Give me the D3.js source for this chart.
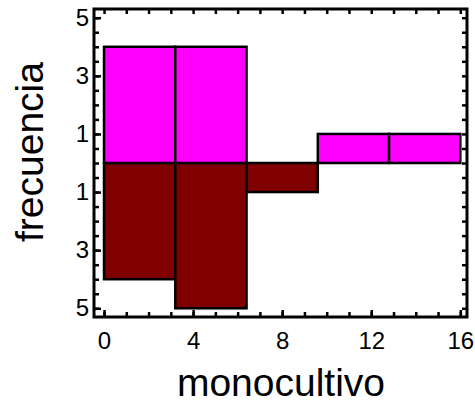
<!DOCTYPE html>
<html>
<head>
<meta charset="utf-8">
<script src="https://cdn.jsdelivr.net/npm/d3@7"></script>
<style>
  html, body { margin: 0; padding: 0; background: #fff; }
  svg { display: block; }
  text { font-family: "Liberation Sans", Arial, sans-serif; fill: #000; }
</style>
</head>
<body>
<svg id="chart" width="475" height="404"></svg>
<script>
// Back-to-back histogram: upper series above the zero line, lower series below.
const binEdges = [0, 3.2, 6.4, 9.6, 12.8, 16];
const upperCounts = [4, 4, 0, 1, 1];
const lowerCounts = [4, 5, 1, 0, 0];
const xTickValues = [0, 4, 8, 12, 16];
const yTickValues = [-5, -3, -1, 1, 3, 5];
const xTitle = "monocultivo";
const yTitle = "frecuencia";

const svg = d3.select("#chart");
const frame = { left: 94, top: 9, right: 467, bottom: 317 };

const x = d3.scaleLinear().domain([-0.45, 16.3]).range([frame.left, frame.right]);
const y = d3.scaleLinear().domain([-5.3, 5.3]).range([frame.bottom, frame.top]);

const bins = upperCounts.map((c, i) => ({ x0: binEdges[i], x1: binEdges[i + 1], up: c, down: lowerCounts[i] }));

// lower bars (drawn first so the upper outline sits on top at zero)
svg.append("g").selectAll("rect")
  .data(bins.filter(d => d.down > 0))
  .join("rect")
  .attr("x", d => x(d.x0))
  .attr("y", y(0))
  .attr("width", d => x(d.x1) - x(d.x0))
  .attr("height", d => y(-d.down) - y(0))
  .attr("fill", "#800000")
  .attr("stroke", "#000")
  .attr("stroke-width", 2.5);

svg.append("g").selectAll("rect")
  .data(bins.filter(d => d.up > 0))
  .join("rect")
  .attr("x", d => x(d.x0))
  .attr("y", d => y(d.up))
  .attr("width", d => x(d.x1) - x(d.x0))
  .attr("height", d => y(0) - y(d.up))
  .attr("fill", "#FF00FF")
  .attr("stroke", "#000")
  .attr("stroke-width", 2.5);

// inward ticks on all four sides
const fmtAbs = d => Math.abs(d);
const xMinor = d3.range(0, 17, 1);
const yMinor = d3.range(-5, 5.01, 0.5);

function tickAxis(axisGen, transform) {
  const g = svg.append("g").attr("transform", transform).call(axisGen);
  g.select(".domain").remove();
  g.selectAll(".tick line").attr("stroke", "#000").attr("stroke-width", 2.5);
  return g;
}

// minor ticks
tickAxis(d3.axisBottom(x).tickValues(xMinor).tickSizeInner(-5).tickSizeOuter(0).tickFormat(""), `translate(0,${frame.bottom})`);
tickAxis(d3.axisTop(x).tickValues(xMinor).tickSizeInner(-5).tickSizeOuter(0).tickFormat(""), `translate(0,${frame.top})`);
tickAxis(d3.axisLeft(y).tickValues(yMinor).tickSizeInner(-5).tickSizeOuter(0).tickFormat(""), `translate(${frame.left},0)`);
tickAxis(d3.axisRight(y).tickValues(yMinor).tickSizeInner(-5).tickSizeOuter(0).tickFormat(""), `translate(${frame.right},0)`);

// labelled ticks
const xAxis = tickAxis(d3.axisBottom(x).tickValues(xTickValues).tickSizeInner(-7).tickSizeOuter(0).tickPadding(15), `translate(0,${frame.bottom})`);
xAxis.selectAll("text").attr("font-size", 24).attr("font-family", "Liberation Sans, Arial, sans-serif").attr("fill", "#000");

const yAxis = tickAxis(d3.axisLeft(y).tickValues(yTickValues).tickFormat(fmtAbs).tickSizeInner(-7).tickSizeOuter(0).tickPadding(5), `translate(${frame.left},0)`);
yAxis.selectAll("text").attr("font-size", 24).attr("font-family", "Liberation Sans, Arial, sans-serif").attr("fill", "#000");

// frame
svg.append("rect")
  .attr("x", frame.left).attr("y", frame.top)
  .attr("width", frame.right - frame.left).attr("height", frame.bottom - frame.top)
  .attr("fill", "none").attr("stroke", "#000").attr("stroke-width", 3);

// titles
svg.append("text")
  .attr("x", 281)
  .attr("y", 396)
  .attr("text-anchor", "middle")
  .attr("font-size", 39)
  .text(xTitle);

svg.append("text")
  .attr("transform", `translate(43,152) rotate(-90)`)
  .attr("text-anchor", "middle")
  .attr("font-size", 39)
  .text(yTitle);
</script>
</body>
</html>
